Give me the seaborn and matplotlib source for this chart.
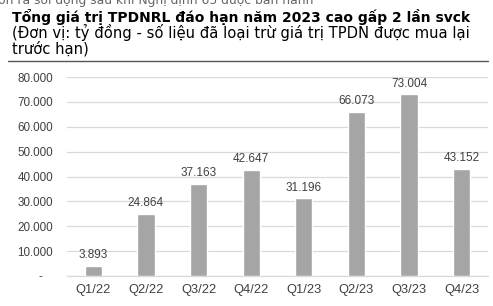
import matplotlib
matplotlib.use("Agg")
import matplotlib.pyplot as plt
import seaborn as sns
import pandas as pd

categories = ["Q1/22", "Q2/22", "Q3/22", "Q4/22", "Q1/23", "Q2/23", "Q3/23", "Q4/23"]
values = [3893, 24864, 37163, 42647, 31196, 66073, 73004, 43152]
value_labels = ["3.893", "24.864", "37.163", "42.647", "31.196", "66.073", "73.004", "43.152"]
yticks = [0, 10000, 20000, 30000, 40000, 50000, 60000, 70000, 80000]
ytick_labels = ["-   ", "10.000", "20.000", "30.000", "40.000", "50.000", "60.000", "70.000", "80.000"]

title = "Tổng giá trị TPDNRL đáo hạn năm 2023 cao gấp 2 lần svck"
subtitle = "(Đơn vị: tỷ đồng - số liệu đã loại trừ giá trị TPDN được mua lại\ntrước hạn)"
cut_text = "ơn ra sôi động sau khi Nghị định 65 được ban hành"

sns.set_theme(style="white")
plt.rcParams['font.family'] = ['Liberation Sans', 'DejaVu Sans']

df = pd.DataFrame({"q": categories, "v": values})

fig = plt.figure(figsize=(4.93, 3.06), dpi=100)
ax = fig.add_axes([67/493, 1-276/306, (488-67)/493, (276-77)/306])

sns.barplot(data=df, x="q", y="v", color="#a5a5a5", saturation=1, width=0.33, ax=ax, zorder=3)

ax.set_ylim(0, 80000)
ax.set_xlim(-0.5, 7.5)
ax.set_yticks(yticks)
ax.set_yticklabels(ytick_labels)
ax.yaxis.grid(True, color="#d9d9d9", linewidth=0.9, zorder=0)
ax.set_axisbelow(True)
for s in ["top", "right", "left"]:
    ax.spines[s].set_visible(False)
ax.spines["bottom"].set_color("#d9d9d9")
ax.spines["bottom"].set_linewidth(0.9)
ax.tick_params(axis="y", length=0, pad=10, labelsize=8.4, labelcolor="#404040")
ax.tick_params(axis="x", length=0, pad=6, labelsize=9.3, labelcolor="#404040")
ax.set_xlabel("")
ax.set_ylabel("")

for i, (v, lab) in enumerate(zip(values, value_labels)):
    ax.annotate(lab, (i, v), xytext=(0, 3.5), textcoords="offset points",
                ha="center", va="bottom", fontsize=8.5, color="#404040")

fig.text(-2/493, 1-4/306, cut_text, fontsize=8.9, color="#666666", ha="left", va="baseline",
         family=['DejaVu Sans'])
fig.text(12/493, 1-17/306, title, fontsize=10, fontweight="bold", color="#000000",
         ha="left", va="center", family=['DejaVu Sans'])
fig.text(12/493, 1-40/306, subtitle, fontsize=10.6, color="#000000", ha="left", va="center",
         linespacing=1.0, family=['DejaVu Sans'])
fig.add_artist(plt.Line2D([8/493, 488/493], [1-61/306, 1-61/306], color="#555555", linewidth=1.0))

fig.savefig("out.png", dpi=100)
